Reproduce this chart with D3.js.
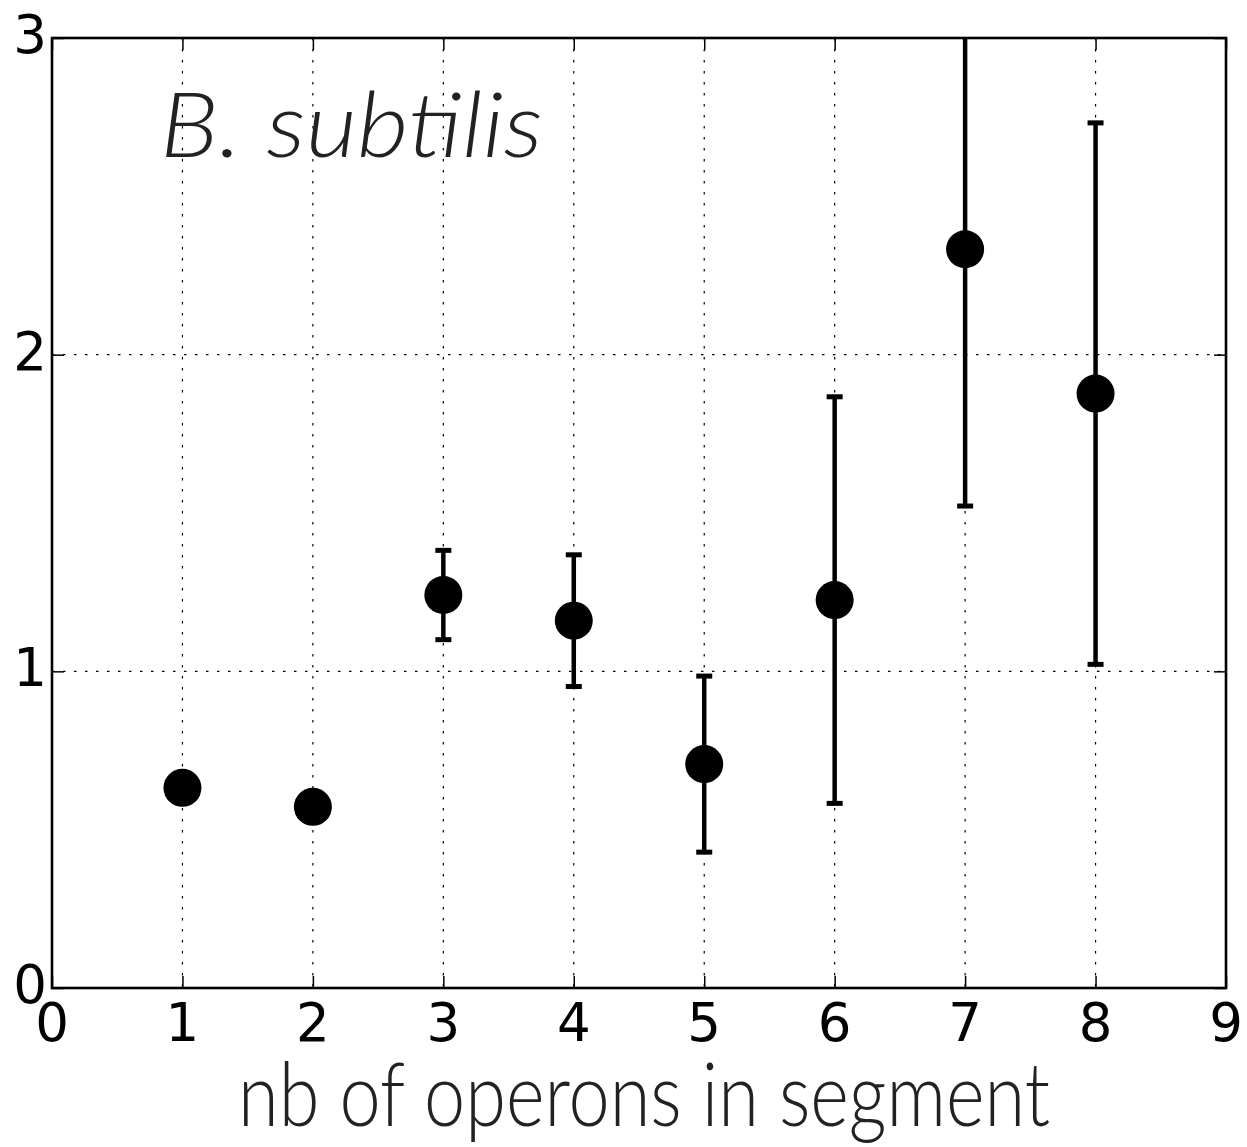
<!DOCTYPE html>
<html><head><meta charset="utf-8">
<script src="https://cdn.jsdelivr.net/npm/d3@7"></script>
<style>body{margin:0;background:#fff}svg{display:block}</style>
</head><body>
<script>
const xs = [1, 2, 3, 4, 5, 6, 7, 8];
const means = [0.632, 0.572, 1.241, 1.160, 0.707, 1.225, 2.333, 1.877];
const errs = [0, 0, 0.141, 0.208, 0.278, 0.642, 0.811, 0.855];
const xTicks = [0,1,2,3,4,5,6,7,8,9];
const yTicks = [0,1,2,3];
const xLabel = "nb of operons in segment";
const annotation = "B. subtilis";

const W = 1247, H = 1147;
const L = 52, R = 1226, T = 38, B = 988;
const svg = d3.select("body").append("svg").attr("width", W).attr("height", H);
const x = d3.scaleLinear().domain([0, 9]).range([L, R]);
const y = d3.scaleLinear().domain([0, 3]).range([B, T]);

// grid
const g = svg.append("g");
g.selectAll(".gx").data(xTicks.slice(1, -1)).enter().append("line")
  .attr("x1", d => x(d)).attr("x2", d => x(d)).attr("y1", T).attr("y2", B)
  .attr("stroke", "#000").attr("stroke-width", 1.2).attr("stroke-dasharray", "2.5,8.5");
g.selectAll(".gy").data(yTicks.slice(1, -1)).enter().append("line")
  .attr("x1", L).attr("x2", R).attr("y1", d => y(d)).attr("y2", d => y(d))
  .attr("stroke", "#000").attr("stroke-width", 1.2).attr("stroke-dasharray", "2.5,8.5");

// ticks (inside) via axes
const axB = svg.append("g").attr("transform", `translate(0,${B})`)
  .call(d3.axisBottom(x).tickValues(xTicks).tickSize(-12).tickFormat(""));
const axT = svg.append("g").attr("transform", `translate(0,${T})`)
  .call(d3.axisTop(x).tickValues(xTicks).tickSize(-12).tickFormat(""));
const axL = svg.append("g").attr("transform", `translate(${L},0)`)
  .call(d3.axisLeft(y).tickValues(yTicks).tickSize(-12).tickFormat(""));
const axR = svg.append("g").attr("transform", `translate(${R},0)`)
  .call(d3.axisRight(y).tickValues(yTicks).tickSize(-12).tickFormat(""));
[axB, axT, axL, axR].forEach(a => {
  a.select(".domain").remove();
  a.selectAll(".tick line").attr("stroke", "#000").attr("stroke-width", 1.5);
});

// tick labels
svg.selectAll(".xl").data(xTicks).enter().append("text")
  .attr("x", d => x(d)).attr("y", B + 53).attr("text-anchor", "middle")
  .attr("font-family", "DejaVu Sans").attr("font-size", 53).text(d => d);
svg.selectAll(".yl").data(yTicks).enter().append("text")
  .attr("x", L - 5).attr("y", d => y(d) + 15).attr("text-anchor", "end")
  .attr("font-family", "DejaVu Sans").attr("font-size", 53).text(d => d);

// clip for data
svg.append("clipPath").attr("id", "clip").append("rect")
  .attr("x", L).attr("y", T).attr("width", R - L).attr("height", B - T);
const data = xs.map((d, i) => ({x: d, m: means[i], e: errs[i]}));
const dg = svg.append("g").attr("clip-path", "url(#clip)");
const eb = data.filter(d => d.e > 0);
dg.selectAll(".eb").data(eb).enter().append("line")
  .attr("x1", d => x(d.x)).attr("x2", d => x(d.x))
  .attr("y1", d => y(d.m - d.e)).attr("y2", d => y(d.m + d.e))
  .attr("stroke", "#000").attr("stroke-width", 4.5);
["lo", "hi"].forEach(k => {
  dg.selectAll(".cap" + k).data(eb).enter().append("line")
    .attr("x1", d => x(d.x) - 8).attr("x2", d => x(d.x) + 8)
    .attr("y1", d => y(k === "lo" ? d.m - d.e : d.m + d.e))
    .attr("y2", d => y(k === "lo" ? d.m - d.e : d.m + d.e))
    .attr("stroke", "#000").attr("stroke-width", 5);
});
dg.selectAll("circle").data(data).enter().append("circle")
  .attr("cx", d => x(d.x)).attr("cy", d => y(d.m)).attr("r", 19).attr("fill", "#000");

// frame
svg.append("rect").attr("x", L).attr("y", T).attr("width", R - L).attr("height", B - T)
  .attr("fill", "none").attr("stroke", "#000").attr("stroke-width", 2.6);

// annotation
svg.append("text").attr("x", 160).attr("y", 157)
  .attr("font-family", "Lato").attr("font-style", "italic").attr("font-weight", 300).attr("font-size", 90)
  .attr("fill", "#222").attr("textLength", 383).attr("lengthAdjust", "spacingAndGlyphs")
  .text(annotation);

// x label
svg.append("text").attr("x", 238).attr("y", 1126)
  .attr("font-family", "Lato").attr("font-weight", 300).attr("font-size", 88).attr("fill", "#222")
  .attr("textLength", 812).attr("lengthAdjust", "spacingAndGlyphs")
  .text(xLabel);
</script>
</body></html>
